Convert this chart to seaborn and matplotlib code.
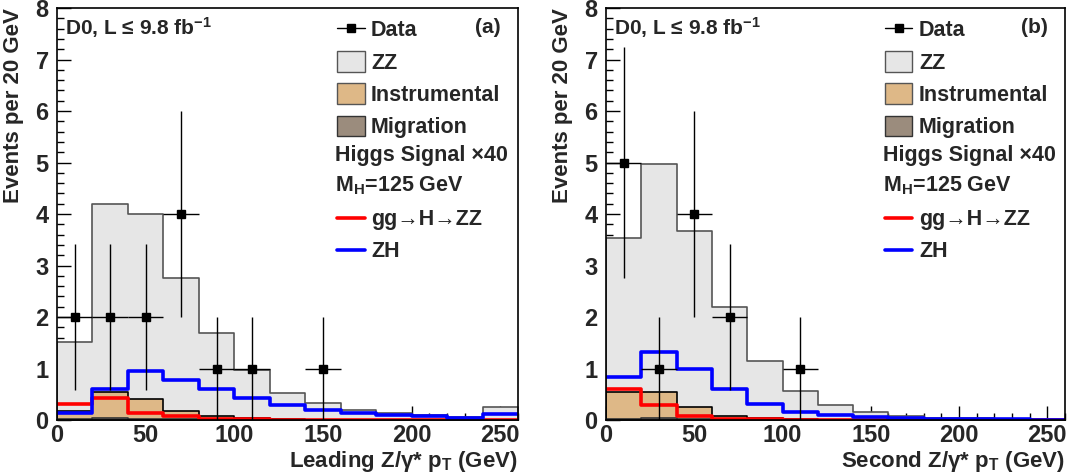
import numpy as np
import matplotlib
matplotlib.use('Agg')
import matplotlib.pyplot as plt
import seaborn as sns
from matplotlib.patches import Patch
from matplotlib.lines import Line2D
from matplotlib.ticker import MultipleLocator

# binning: 20 GeV bins from 0 to 260 GeV
edges = list(range(0, 280, 20))
centers = [e + 10 for e in edges[:-1]]

# (a) leading Z/gamma* pT
zz_a = [1.34, 3.65, 3.60, 2.58, 1.62, 0.93, 0.51, 0.32, 0.18, 0.13, 0.09, 0.06, 0.26]
instr_a = [0.15, 0.51, 0.37, 0.15, 0.07, 0.03, 0.02, 0.01, 0.01, 0.0, 0.0, 0.0, 0.0]
mig_a = [0.03, 0.04, 0.03, 0.02, 0.01, 0.01, 0.0, 0.0, 0.0, 0.0, 0.0, 0.0, 0.0]
gg_a = [0.31, 0.43, 0.14, 0.07, 0.03, 0.02, 0.01, 0.01, 0.01, 0.01, 0.0, 0.0, 0.01]
zh_a = [0.13, 0.60, 0.96, 0.78, 0.60, 0.42, 0.29, 0.20, 0.13, 0.09, 0.07, 0.05, 0.12]
data_x_a = [10, 30, 50, 70, 90, 110, 150]
data_y_a = [2, 2, 2, 4, 1, 1, 1]

# (b) second Z/gamma* pT
zz_b = [3.00, 4.44, 3.42, 2.12, 1.11, 0.55, 0.28, 0.15, 0.08, 0.05, 0.04, 0.03, 0.02]
instr_b = [0.52, 0.50, 0.22, 0.06, 0.03, 0.01, 0.01, 0.0, 0.0, 0.0, 0.0, 0.0, 0.0]
mig_b = [0.02, 0.04, 0.03, 0.02, 0.01, 0.01, 0.0, 0.0, 0.0, 0.0, 0.0, 0.0, 0.0]
gg_b = [0.60, 0.29, 0.07, 0.03, 0.02, 0.01, 0.01, 0.01, 0.0, 0.0, 0.0, 0.0, 0.0]
zh_b = [0.83, 1.33, 1.00, 0.60, 0.32, 0.16, 0.10, 0.06, 0.04, 0.03, 0.02, 0.02, 0.01]
data_x_b = [10, 30, 50, 70, 110]
data_y_b = [5, 1, 4, 2, 1]

c_zz = '#e6e6e6'
c_instr = '#deb887'
c_mig = '#9b8c7d'

sns.set_style('ticks')
plt.rcParams['font.family'] = ['Liberation Sans', 'DejaVu Sans']
plt.rcParams['font.weight'] = 'bold'
plt.rcParams['axes.labelweight'] = 'bold'
plt.rcParams['mathtext.fontset'] = 'custom'
plt.rcParams['mathtext.rm'] = 'Liberation Sans:bold'
plt.rcParams['mathtext.it'] = 'Liberation Sans:bold'
plt.rcParams['mathtext.bf'] = 'Liberation Sans:bold'

fig = plt.figure(figsize=(10.81, 4.72), dpi=100)
ax_a = fig.add_axes([0.0527, 0.110, 0.4265, 0.873])
ax_b = fig.add_axes([0.5606, 0.110, 0.4246, 0.873])

bold = {'weight': 'bold', 'size': 15.5}


def draw_panel(ax, zz, instr, mig, gg, zh, dx, dy, xlabel, tag):
    zz = np.array(zz)
    instr = np.array(instr)
    mig = np.array(mig)
    # stacked backgrounds, drawn from the top of the stack down
    layers = [(zz + instr + mig, c_zz, '#555555'),
              (instr + mig, c_instr, 'black'),
              (mig, c_mig, '#333333')]
    for heights, face, edge in layers:
        sns.histplot(x=centers, weights=heights, bins=edges, element='step',
                     fill=True, color=face, edgecolor=edge, linewidth=1.2,
                     alpha=1, ax=ax)
    # Higgs signal x40
    sns.histplot(x=centers, weights=gg, bins=edges, element='step', fill=False,
                 color='#ff0000', linewidth=2.6, ax=ax)
    sns.histplot(x=centers, weights=zh, bins=edges, element='step', fill=False,
                 color='#0000ff', linewidth=2.6, ax=ax)
    # data
    dy = np.array(dy, dtype=float)
    ax.errorbar(dx, dy, xerr=10, yerr=np.sqrt(dy), fmt='s', color='black',
                ms=6, elinewidth=1, capsize=0, zorder=5)

    ax.set_xlim(0, 260)
    ax.set_ylim(0, 8)
    ax.xaxis.set_major_locator(MultipleLocator(50))
    ax.xaxis.set_minor_locator(MultipleLocator(10))
    ax.yaxis.set_major_locator(MultipleLocator(1))
    ax.yaxis.set_minor_locator(MultipleLocator(0.2))
    ax.tick_params(which='both', direction='in', top=False, right=False,
                   width=1, color='black')
    ax.tick_params(which='major', length=10, labelsize=17)
    ax.tick_params(which='minor', length=5)
    ax.tick_params(axis='y', pad=6)
    ax.tick_params(axis='x', pad=3)
    for lbl in ax.get_xticklabels() + ax.get_yticklabels():
        lbl.set_fontweight('bold')
    for sp in ax.spines.values():
        sp.set_linewidth(1.2)
        sp.set_color('black')

    ax.set_xlabel(xlabel, fontsize=16, fontweight='bold', loc='right',
                  labelpad=1)
    ax.set_ylabel('Events per 20 GeV', fontsize=16, fontweight='bold',
                  loc='top', labelpad=8)

    ax.text(0.017, 0.952, r'D0, L ≤ 9.8 fb$^{-1}$', transform=ax.transAxes,
            fontsize=15, fontweight='bold', ha='left', va='center')
    ax.text(0.962, 0.952, tag, transform=ax.transAxes, fontsize=15,
            fontweight='bold', ha='right', va='center')

    h1 = [Line2D([], [], color='black', marker='s', ms=6, lw=1),
          Patch(facecolor=c_zz, edgecolor='#555555'),
          Patch(facecolor=c_instr, edgecolor='#555555'),
          Patch(facecolor=c_mig, edgecolor='#333333')]
    leg1 = ax.legend(h1, ['Data', 'ZZ', 'Instrumental', 'Migration'],
                     loc='upper left', bbox_to_anchor=(0.588, 0.995),
                     frameon=False, prop=bold, handlelength=1.3,
                     handleheight=1.1, handletextpad=0.3, labelspacing=0.45,
                     borderaxespad=0)
    ax.add_artist(leg1)
    ax.text(0.603, 0.643, 'Higgs Signal ×40', transform=ax.transAxes,
            fontsize=15.5, fontweight='bold', ha='left', va='center')
    ax.text(0.603, 0.568, r'M$_{H}$=125 GeV', transform=ax.transAxes,
            fontsize=15.5, fontweight='bold', ha='left', va='center')
    h2 = [Line2D([], [], color='#ff0000', lw=2.6),
          Line2D([], [], color='#0000ff', lw=2.6)]
    ax.legend(h2, ['gg→H→ZZ', 'ZH'], loc='upper left',
              bbox_to_anchor=(0.588, 0.532), frameon=False, prop=bold,
              handlelength=1.3, handletextpad=0.3, labelspacing=0.5,
              borderaxespad=0)


draw_panel(ax_a, zz_a, instr_a, mig_a, gg_a, zh_a, data_x_a, data_y_a,
           r'Leading Z/γ* p$_{T}$ (GeV)', '(a)')
draw_panel(ax_b, zz_b, instr_b, mig_b, gg_b, zh_b, data_x_b, data_y_b,
           r'Second Z/γ* p$_{T}$ (GeV)', '(b)')

fig.savefig('out.png', dpi=100, facecolor='white')
